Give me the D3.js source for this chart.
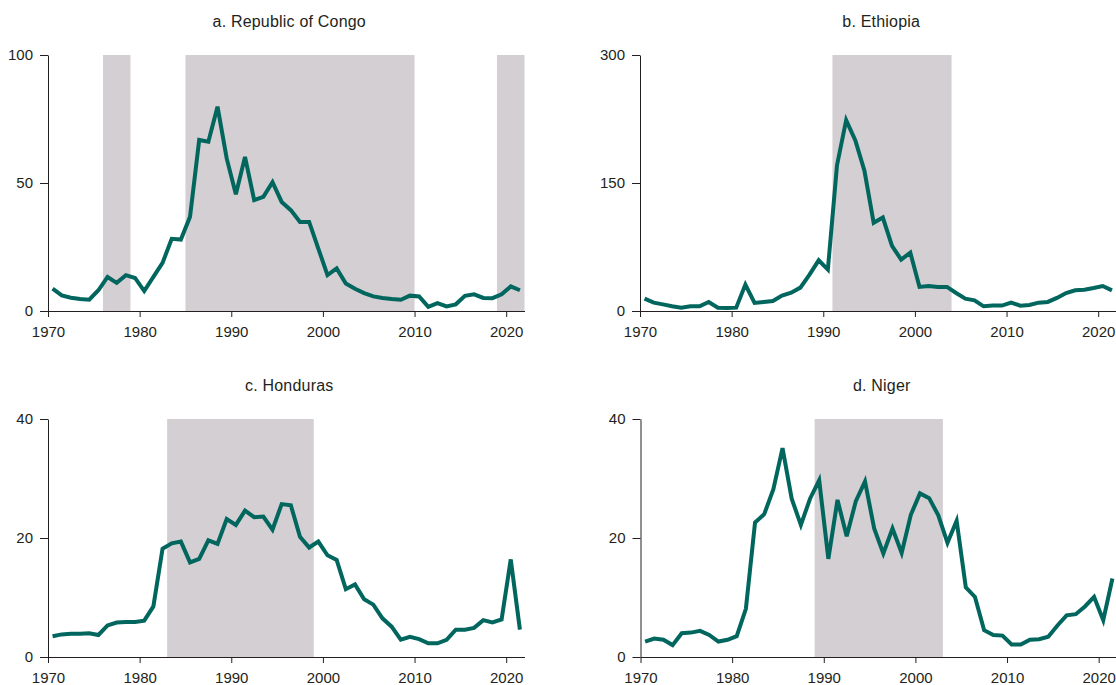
<!DOCTYPE html>
<html>
<head>
<meta charset="utf-8">
<script src="https://cdn.jsdelivr.net/npm/d3@7"></script>
<style>
    body { margin: 0; background: #fff; }
    svg { display: block; font-family: "Liberation Sans", Arial, Helvetica, sans-serif; }
    .axis path, .axis line { stroke: #231f20; stroke-width: 1; }
    .axis text { fill: #231f20; font-size: 15px; }
    .title { fill: #231f20; font-size: 16px; letter-spacing: 0.2px; }
</style>
</head>
<body>
<div id="chart"></div>
<script>
// --- data (annual, 1970-2021)
const years = d3.range(1970, 2022);

const congo = [8.7, 6.1, 5.2, 4.7, 4.4, 8.1, 13.3, 11, 14, 12.9,
    7.8, 13.3, 18.8, 28.2, 27.9, 36.8, 66.8, 66.1, 79.8, 59.6,
    45.6, 60.2, 43.3, 44.6, 50.3, 42.6, 39.4, 34.8, 34.8, 24.4,
    14, 16.6, 10.7, 8.7, 7, 5.7, 5.1, 4.7, 4.4, 6,
    5.7, 1.6, 3.1, 1.8, 2.6, 5.9, 6.5, 5.1, 5, 6.5,
    9.6, 8.1];

const ethiopia = [14.5, 9.8, 7.8, 5.5, 3.9, 5.5, 5.5, 10.6, 3.9, 3.5,
    3.9, 30.9, 9.4, 10.6, 11.7, 18, 21.5, 27.4, 42.6, 59.4,
    48.5, 170.9, 223.7, 200, 164, 103.3, 109.5, 76.3, 60.2, 68.4,
    28.2, 29.3, 28.2, 28.2, 21.1, 14.5, 12.5, 5.5, 6.3, 6.3,
    9.8, 6.3, 7, 9.8, 10.6, 15.3, 21.1, 24.2, 25, 27,
    29.3, 24.2];

const honduras = [3.5, 3.8, 3.9, 3.9, 4.0, 3.7, 5.3, 5.8, 5.9, 5.9,
    6.1, 8.5, 18.2, 19.1, 19.4, 15.9, 16.5, 19.6, 19.0, 23.2,
    22.2, 24.6, 23.5, 23.6, 21.4, 25.7, 25.5, 20.2, 18.4, 19.4,
    17.1, 16.3, 11.4, 12.2, 9.7, 8.8, 6.5, 5.1, 2.9, 3.4,
    3.0, 2.3, 2.3, 2.9, 4.6, 4.6, 4.9, 6.2, 5.8, 6.3,
    16.4, 4.6];

const niger = [2.6, 3.1, 2.9, 2.0, 4.0, 4.1, 4.4, 3.7, 2.6, 2.9,
    3.5, 8.1, 22.6, 24.0, 28.2, 35.1, 26.6, 22.2, 26.6, 29.7,
    16.5, 26.4, 20.3, 26.2, 29.5, 21.6, 17.4, 21.6, 17.5, 23.9,
    27.5, 26.7, 23.8, 19.2, 22.9, 11.7, 10.1, 4.5, 3.7, 3.6,
    2.1, 2.1, 2.9, 3.0, 3.4, 5.3, 7.0, 7.2, 8.5, 10.1,
    6.2, 13.2];

// shaded periods [start, end]
const congoShade = [[1976, 1979], [1985, 2010], [2019, 2022]];
const ethiopiaShade = [[1991, 2004]];
const hondurasShade = [[1983, 1999]];
const nigerShade = [[1989, 2003]];

const titles = ['a. Republic of Congo', 'b. Ethiopia', 'c. Honduras', 'd. Niger'];
const xTicks = [1970, 1980, 1990, 2000, 2010, 2020];
const yMaxes = [100, 300, 40, 40];
const yTicksList = [[0, 50, 100], [0, 150, 300], [0, 20, 40], [0, 20, 40]];

// --- layout
const WIDTH = 1116, HEIGHT = 685;
const LINE_COLOR = '#00665e', SHADE_COLOR = '#d3cfd2';

const panels = [
    { title: titles[0], data: congo, shade: congoShade, left: 48, top: 55, bottom: 311 },
    { title: titles[1], data: ethiopia, shade: ethiopiaShade, left: 640, top: 55, bottom: 311 },
    { title: titles[2], data: honduras, shade: hondurasShade, left: 48, top: 419, bottom: 657 },
    { title: titles[3], data: niger, shade: nigerShade, left: 640.5, top: 419, bottom: 657 },
];
const plotWidth = 476.5;

const svg = d3.select('#chart').append('svg')
    .attr('width', WIDTH)
    .attr('height', HEIGHT);

panels.forEach((p, i) => {
    const x = d3.scaleLinear().domain([1970, 2022]).range([p.left, p.left + plotWidth]);
    const y = d3.scaleLinear().domain([0, yMaxes[i]]).range([p.bottom, p.top]);
    const g = svg.append('g').attr('class', 'panel');

    // shaded periods
    g.selectAll('rect.shade')
        .data(p.shade)
        .enter().append('rect')
        .attr('class', 'shade')
        .attr('x', d => x(d[0]))
        .attr('y', y(yMaxes[i]))
        .attr('width', d => x(d[1]) - x(d[0]))
        .attr('height', y(0) - y(yMaxes[i]))
        .attr('fill', SHADE_COLOR);

    // title
    g.append('text')
        .attr('class', 'title')
        .attr('x', (x.range()[0] + x.range()[1]) / 2 + 3)
        .attr('y', p.top - 28)
        .attr('text-anchor', 'middle')
        .text(p.title);

    // axes
    const xAxis = d3.axisBottom(x).tickValues(xTicks).tickFormat(d3.format('d'))
        .tickSizeInner(6).tickSizeOuter(0).tickPadding(9);
    g.append('g')
        .attr('class', 'x axis')
        .attr('transform', `translate(0,${p.bottom})`)
        .call(xAxis);

    const yAxis = d3.axisLeft(y).tickValues(yTicksList[i])
        .tickSizeInner(8).tickSizeOuter(0).tickPadding(7);
    g.append('g')
        .attr('class', 'y axis')
        .attr('transform', `translate(${p.left},0)`)
        .call(yAxis);

    // line, points sit at mid-year
    const line = d3.line()
        .x((_, k) => x(years[k] + 0.5))
        .y(d => y(d));
    g.append('path')
        .datum(p.data)
        .attr('fill', 'none')
        .attr('stroke', LINE_COLOR)
        .attr('stroke-width', 4)
        .attr('stroke-linejoin', 'miter')
        .attr('d', line);
});
</script>
</body>
</html>
